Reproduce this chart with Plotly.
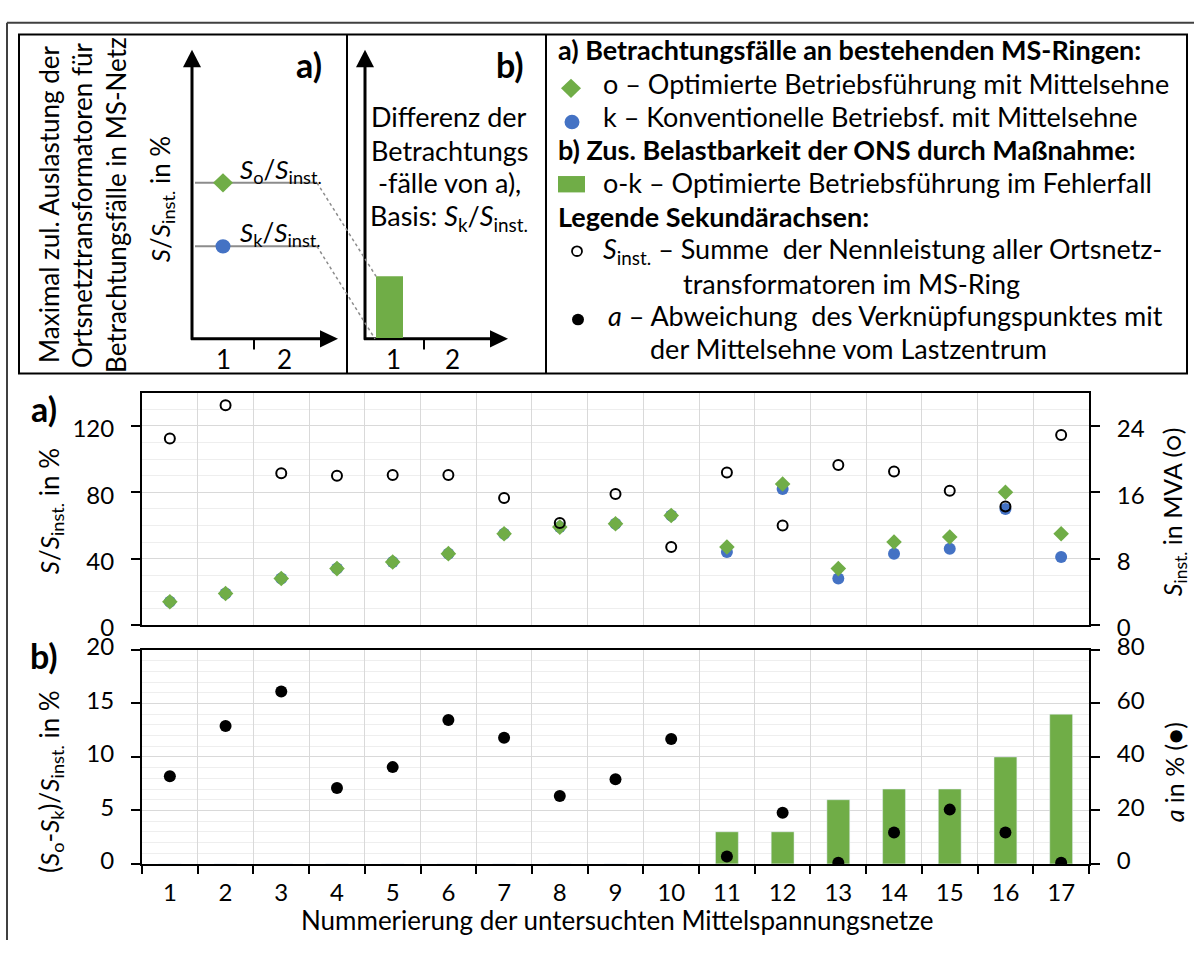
import plotly.graph_objects as go

# ---------------- data ----------------
net = [str(i) for i in range(1, 18)]
s_o = [14, 19, 28, 34, 38, 43, 55, 59, 61, 66, 47, 85, 34, 50, 53, 80, 55]          # % (green diamonds)
s_k = [14, 19, 28, 34, 38, 43, 55, 59, 61, 66, 44, 82, 28, 43, 46, 70, 41]          # % (blue circles)
s_inst = [22.5, 26.5, 18.3, 18.0, 18.1, 18.1, 15.3, 12.3, 15.8, 9.4,
          18.4, 12.0, 19.3, 18.5, 16.2, 14.3, 22.9]                                  # MVA (open circles)
diff_ok = [0, 0, 0, 0, 0, 0, 0, 0, 0, 0, 3, 3, 6, 7, 7, 10, 14]                      # % (bars)
a_dev = [32.8, 51.6, 64.5, 28.4, 36.2, 53.8, 47.2, 25.4, 31.7, 46.7,
         2.8, 19.1, 0.4, 11.7, 20.3, 11.7, 0.4]                                      # % (black dots)

W, H = 1194, 956
FONT = "Lato"
GREEN = "#70AD47"
BLUE = "#4472C4"
GRID = "#d9d9d9"
MINOR = "#eeeeee"


def X(p):
    return p / W


def Y(p):
    return 1 - p / H


fig = go.Figure()

# ---------------- panel a ----------------
fig.add_trace(go.Scatter(x=net, y=s_k, mode="markers", xaxis="x", yaxis="y",
                         marker=dict(symbol="circle", size=12, color=BLUE)))
fig.add_trace(go.Scatter(x=net, y=s_o, mode="markers", xaxis="x", yaxis="y",
                         marker=dict(symbol="diamond", size=12, color=GREEN)))
fig.add_trace(go.Scatter(x=net, y=s_inst, mode="markers", xaxis="x", yaxis="y2",
                         marker=dict(symbol="circle-open", size=10, color="black",
                                     line=dict(width=2, color="black"))))
# ---------------- panel b ----------------
fig.add_trace(go.Bar(x=net, y=diff_ok, xaxis="x2", yaxis="y3", marker_color=GREEN))
fig.add_trace(go.Scatter(x=net, y=a_dev, mode="markers", xaxis="x2", yaxis="y4",
                         marker=dict(symbol="circle", size=12, color="black")))

tickfont = dict(family=FONT, size=24, color="black")
xcommon = dict(type="category", categoryorder="array", categoryarray=net,
               tickson="boundaries", range=[-0.5, 16.5],
               showgrid=True, gridcolor=GRID, gridwidth=1,
               showline=True, linecolor="black", linewidth=2, mirror=True,
               zeroline=False, domain=[X(142), X(1089)], tickfont=tickfont)
ycommon = dict(ticks="outside", ticklen=9, tickwidth=2, tickcolor="black",
               showline=True, linecolor="black", linewidth=2, zeroline=False,
               tickfont=tickfont, ticklabelstandoff=12, tick0=0)

fig.update_layout(
    width=W, height=H, autosize=False,
    margin=dict(l=0, r=0, t=0, b=0),
    paper_bgcolor="white", plot_bgcolor="white",
    showlegend=False, bargap=0.59,
    font=dict(family=FONT, size=22, color="black"),
    xaxis=dict(xcommon, anchor="y", showticklabels=False, ticks=""),
    xaxis2=dict(xcommon, anchor="y3", ticks="outside", ticklen=8, tickwidth=2,
                tickcolor="black", ticklabelstandoff=6),
    yaxis=dict(ycommon, domain=[Y(629), Y(388)], range=[0, 140], dtick=40, anchor="x",
               showgrid=True, gridcolor=GRID, gridwidth=1, ticklabelshift=3,
               minor=dict(dtick=10, tick0=0, showgrid=True, gridcolor=MINOR, gridwidth=1)),
    yaxis2=dict(ycommon, overlaying="y", side="right", anchor="x", range=[0, 28], dtick=8,
                showgrid=False, ticklabelshift=3),
    yaxis3=dict(ycommon, domain=[Y(877), Y(655)], range=[0, 20], dtick=5, anchor="x2",
                showgrid=True, gridcolor=GRID, gridwidth=1, ticklabelshift=-3,
                minor=dict(dtick=1, tick0=0, showgrid=True, gridcolor=MINOR, gridwidth=1)),
    yaxis4=dict(ycommon, overlaying="y3", side="right", anchor="x2", range=[0, 80], dtick=20,
                showgrid=False, ticklabelshift=-3),
)

shapes = []
annotations = []


def line(x0, y0, x1, y1, color="black", width=2, dash=None):
    shapes.append(dict(type="line", xref="paper", yref="paper",
                       x0=X(x0), y0=Y(y0), x1=X(x1), y1=Y(y1),
                       line=dict(color=color, width=width, dash=dash)))


def rect(x0, y0, x1, y1, fill=None, color="black", width=2):
    shapes.append(dict(type="rect", xref="paper", yref="paper",
                       x0=X(x0), y0=Y(y0), x1=X(x1), y1=Y(y1),
                       fillcolor=fill if fill else "rgba(0,0,0,0)",
                       line=dict(color=color, width=width)))


def poly(points, fill):
    d = "M " + " L ".join(f"{X(px):.5f},{Y(py):.5f}" for px, py in points) + " Z"
    shapes.append(dict(type="path", xref="paper", yref="paper", path=d,
                       fillcolor=fill, line=dict(width=0)))


def circle(cx, cy, r, fill, color=None, width=0):
    shapes.append(dict(type="circle", xref="paper", yref="paper",
                       x0=X(cx - r), y0=Y(cy + r), x1=X(cx + r), y1=Y(cy - r),
                       fillcolor=fill, line=dict(color=color or fill, width=width)))


def diamond(cx, cy, r, fill):
    poly([(cx, cy - r), (cx + r, cy), (cx, cy + r), (cx - r, cy)], fill)


def text(x, y, s, size=22, xanchor="center", yanchor="middle", angle=0):
    annotations.append(dict(xref="paper", yref="paper", x=X(x), y=Y(y), text=s,
                            showarrow=False, xanchor=xanchor, yanchor=yanchor,
                            textangle=angle, font=dict(family=FONT, size=size, color="black")))


# ---------------- frames ----------------
line(7, 4, 1194, 4, color="#404040", width=2)
line(7, 4, 7, 956, color="#404040", width=2)
rect(19, 16, 1187, 368, color="black", width=2)
line(347, 16, 347, 368)
line(546, 16, 546, 368)

# ---------------- schematic a) ----------------
text(49, 193, "Maximal zul. Auslastung der", 26, angle=-90)
text(82, 193, "Ortsnetztransformatoren für", 26, angle=-90)
text(116, 193, "Betrachtungsfälle in MS-Netz", 26, angle=-90)
text(161, 187, "<i>S</i>/<i>S</i><sub>inst.</sub> in %", 26, angle=-90)
text(309, 47, "<b>a)</b>", 34)
text(510, 47, "<b>b)</b>", 34)

# axes with arrows
line(192, 333, 192, 48, width=3)
poly([(192, 32), (201, 50), (183, 50)], "black")
line(191, 332, 322, 332, width=3)
poly([(338, 332), (320, 323), (320, 341)], "black")
line(254, 332, 254, 343, width=2)
text(223, 353, "1", 26)
text(284, 353, "2", 26)

line(365, 333, 365, 48, width=3)
poly([(365, 32), (374, 50), (356, 50)], "black")
line(364, 332, 492, 332, width=3)
poly([(508, 332), (490, 323), (490, 341)], "black")
line(424, 332, 424, 343, width=2)
text(393, 353, "1", 26)
text(452, 353, "2", 26)

# reference lines and markers
line(195, 170, 317, 170, color="#8c8c8c", width=2)
line(195, 236, 317, 236, color="#8c8c8c", width=2)
line(317, 170, 376, 267, color="#8c8c8c", width=1.5, dash="dot")
line(317, 236, 375, 332, color="#8c8c8c", width=1.5, dash="dot")
diamond(223, 170, 10, GREEN)
circle(223, 236, 7.5, BLUE)
rect(376, 267, 403, 331, fill=GREEN, color=GREEN, width=0)
text(238, 157, "<i>S</i><sub>o</sub>/<i>S</i><sub>inst.</sub>", 26, xanchor="left")
text(238, 223, "<i>S</i><sub>k</sub>/<i>S</i><sub>inst.</sub>", 26, xanchor="left")

text(449, 101, "Differenz der", 27)
text(449, 136, "Betrachtungs", 27)
text(449, 170, "-fälle von a),", 27)
text(449, 206, "Basis: <i>S</i><sub>k</sub>/<i>S</i><sub>inst.</sub>", 27)

# ---------------- legend box ----------------
LS = 27
text(556, 32, "<b>a) Betrachtungsfälle an bestehenden MS-Ringen:</b>", LS, xanchor="left")
diamond(571, 72, 10, GREEN)
text(601, 67, "o – Optimierte Betriebsführung mit Mittelsehne", LS, xanchor="left")
circle(572, 107, 7.5, BLUE)
text(601, 101, "k – Konventionelle Betriebsf. mit Mittelsehne", LS, xanchor="left")
text(556, 135, "<b>b) Zus. Belastbarkeit der ONS durch Maßnahme:</b>", LS, xanchor="left")
rect(558, 163, 585, 180, fill=GREEN, color=GREEN, width=0)
text(601, 170, "o-k – Optimierte Betriebsführung im Fehlerfall", LS, xanchor="left")
text(556, 205, "<b>Legende Sekundärachsen:</b>", LS, xanchor="left")
circle(577, 241, 5, "white", color="black", width=1.8)
text(601, 240, "<i>S</i><sub>inst.</sub> – Summe\u00a0 der Nennleistung aller Ortsnetz-", LS, xanchor="left")
text(681, 275, "transformatoren im MS-Ring", LS, xanchor="left")
circle(578, 312, 6, "black")
text(606, 308, "<i>a</i> – Abweichung\u00a0 des Verknüpfungspunktes mit", LS, xanchor="left")
text(648, 342, "der Mittelsehne vom Lastzentrum", LS, xanchor="left")

# ---------------- chart labels ----------------
text(44, 404, "<b>a)</b>", 34)
text(44, 661, "<b>b)</b>", 34)
text(50, 511, "<i>S</i>/<i>S</i><sub>inst.</sub> in %", 26, angle=-90)
text(50, 792, "(<i>S</i><sub>o</sub>-<i>S</i><sub>k</sub>)/<i>S</i><sub>inst.</sub> in %", 26, angle=-90)
text(1174, 512, "<i>S</i><sub>inst.</sub> in MVA (○)", 25, angle=-90)
text(1174, 782, "<i>a</i> in % (●)", 25, angle=-90)
text(617, 935, "Nummerierung der untersuchten Mittelspannungsnetze", 26)

fig.update_layout(shapes=shapes, annotations=annotations)
fig.write_html("out.html")
